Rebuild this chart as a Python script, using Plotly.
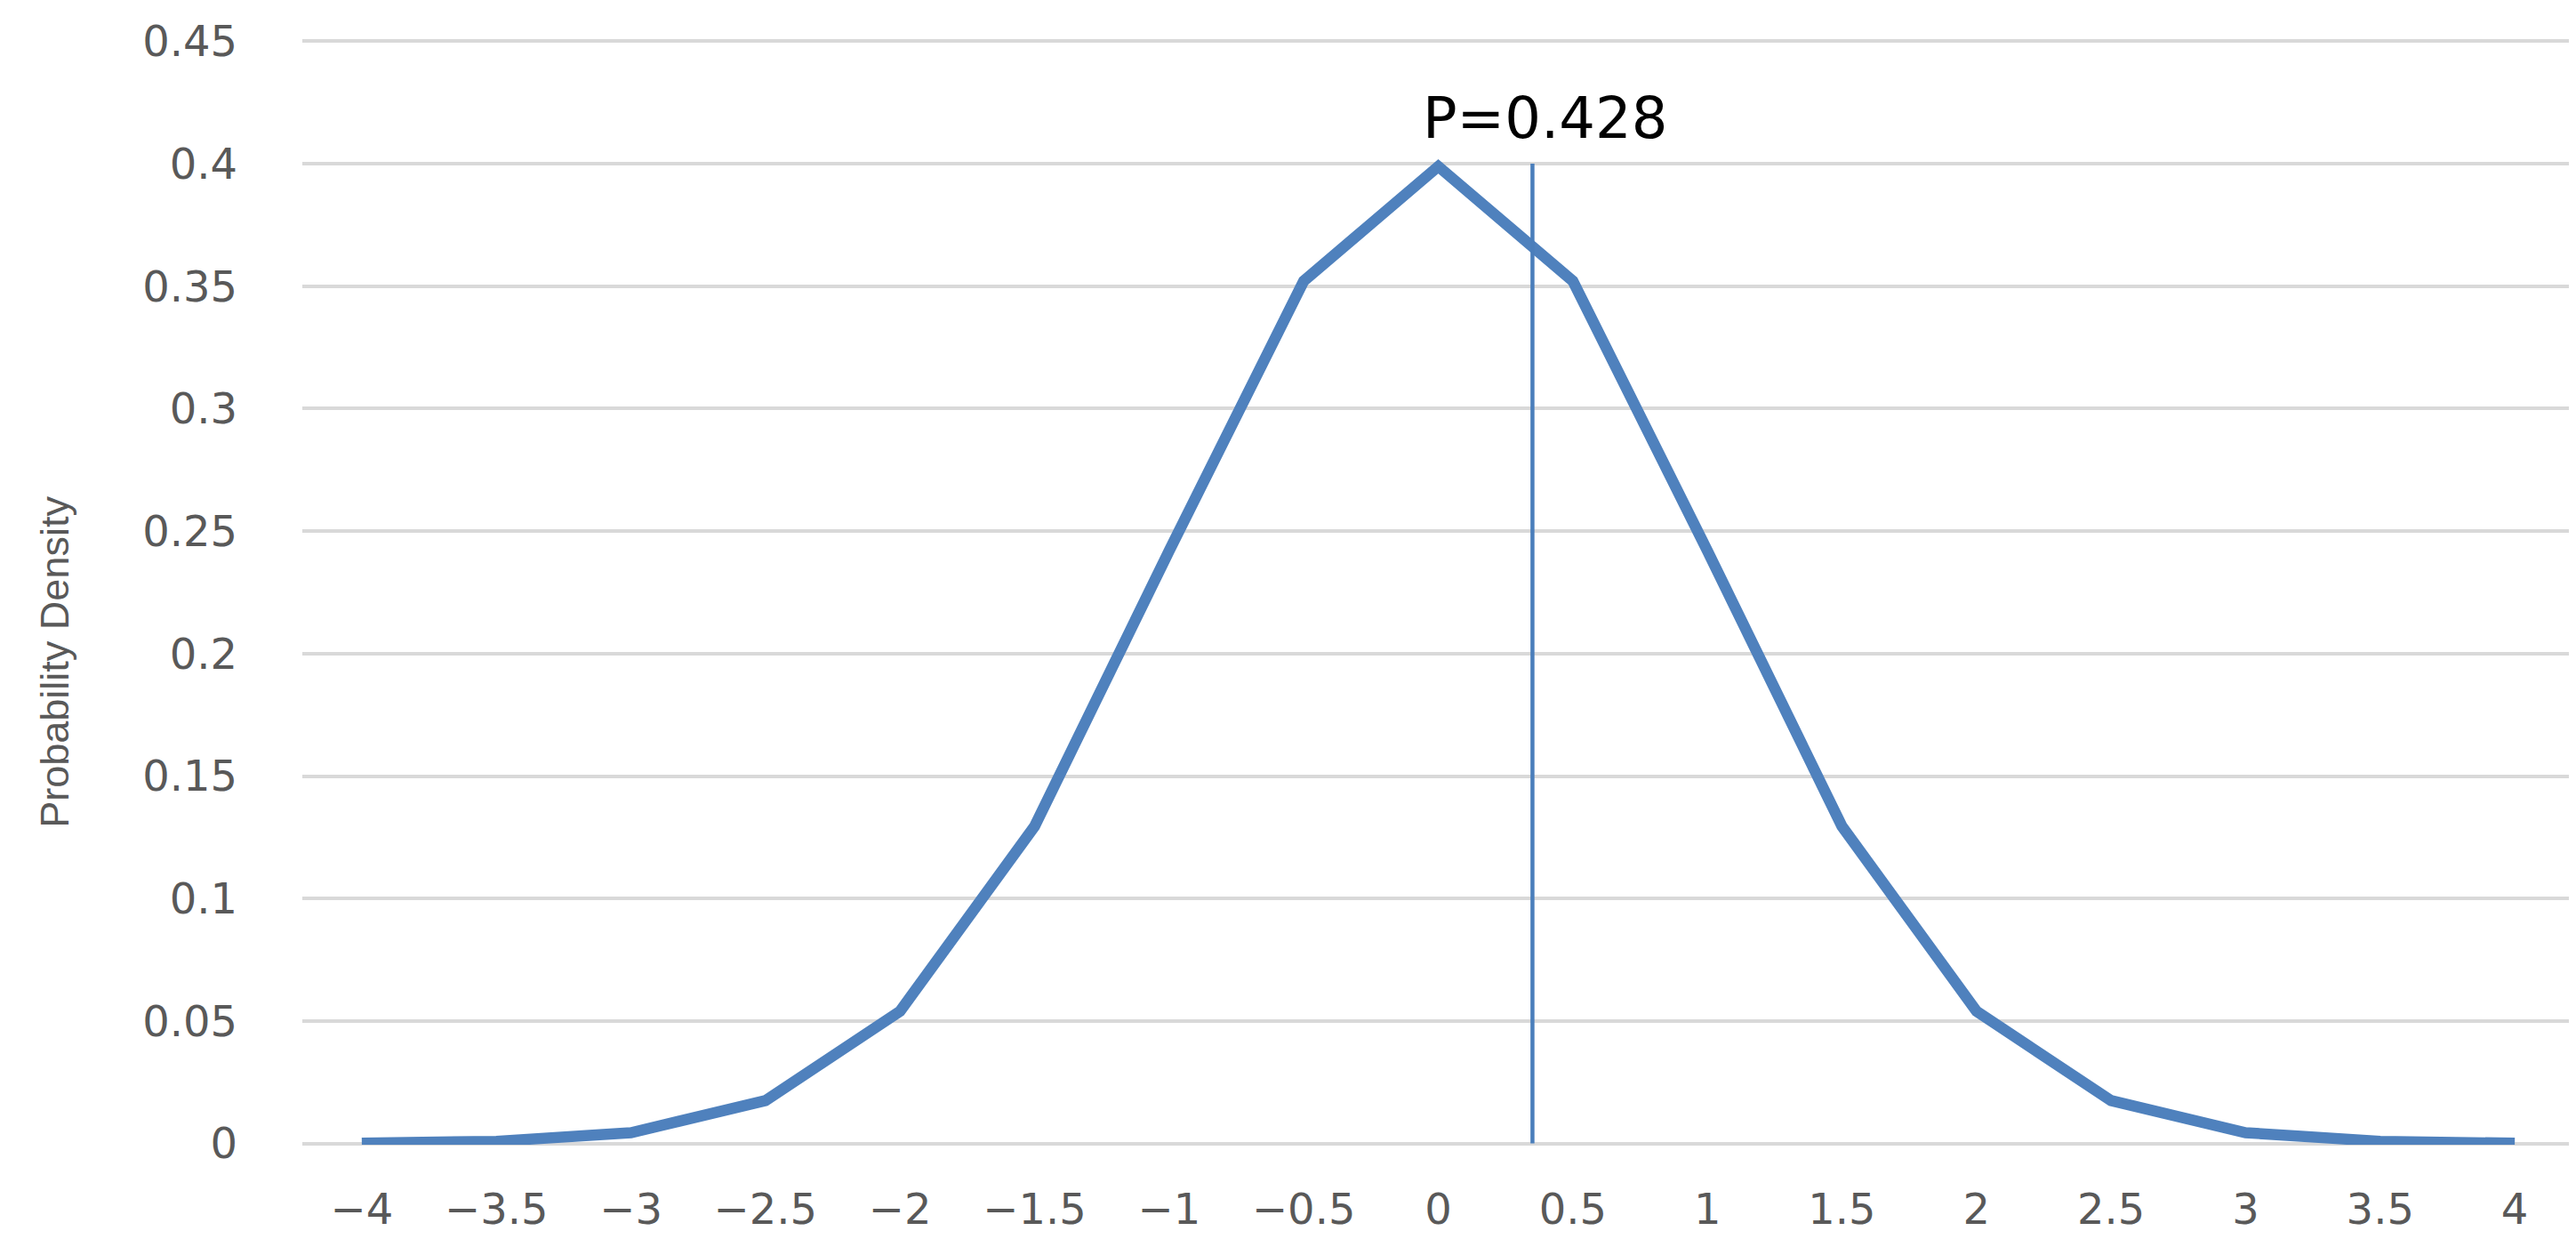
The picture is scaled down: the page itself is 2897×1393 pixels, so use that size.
import plotly.graph_objects as go

x_values = [-4, -3.5, -3, -2.5, -2, -1.5, -1, -0.5, 0, 0.5, 1, 1.5, 2, 2.5, 3, 3.5, 4]
x_labels = ["\u22124", "\u22123.5", "\u22123", "\u22122.5", "\u22122", "\u22121.5", "\u22121", "\u22120.5",
            "0", "0.5", "1", "1.5", "2", "2.5", "3", "3.5", "4"]
density = [0.0001, 0.0009, 0.0044, 0.0175, 0.054, 0.1295, 0.242, 0.3521, 0.3989,
           0.3521, 0.242, 0.1295, 0.054, 0.0175, 0.0044, 0.0009, 0.0001]

y_ticks = [0, 0.05, 0.1, 0.15, 0.2, 0.25, 0.3, 0.35, 0.4, 0.45]
y_labels = ["0", "0.05", "0.1", "0.15", "0.2", "0.25", "0.3", "0.35", "0.4", "0.45"]

marker_x = [0.35, 0.35]
marker_y = [0, 0.4]
p_label = "P=0.428"

blue = "#4f81bd"

fig = go.Figure()
fig.add_trace(go.Scatter(x=x_values, y=density, mode="lines",
                         line=dict(color=blue, width=12.5), showlegend=False))
fig.add_trace(go.Scatter(x=marker_x, y=marker_y, mode="lines",
                         line=dict(color="#4a7ebb", width=4.5), showlegend=False))

fig.add_annotation(x=0.396, y=0.4185, text=p_label, showarrow=False,
                   xanchor="center", yanchor="middle",
                   font=dict(family="DejaVu Sans", size=64, color="#000000"))
fig.add_annotation(x=-0.109, y=0.437, xref="paper", yref="paper",
                   text="Probability Density", textangle=-90, showarrow=False,
                   xanchor="center", yanchor="middle",
                   font=dict(family="Liberation Sans Narrow, Liberation Sans", size=45, color="#595959"))

fig.update_layout(
    width=2897, height=1393,
    margin=dict(l=332, r=10, t=32, b=114),
    plot_bgcolor="white", paper_bgcolor="white",
)
fig.update_xaxes(range=[-4.221, 4.221], tickvals=x_values, ticktext=x_labels,
                 showgrid=False, zeroline=False, showline=False, ticks="",
                 ticklabelstandoff=40,
                 tickfont=dict(family="DejaVu Sans", size=48, color="#595959"))
fig.update_yaxes(range=[-0.0005, 0.4505], tickvals=y_ticks, ticktext=y_labels,
                 showgrid=True, gridcolor="#d9d9d9", gridwidth=3.5, zeroline=False,
                 showline=False, ticks="", ticklabelstandoff=72,
                 tickfont=dict(family="DejaVu Sans", size=48, color="#595959"))

fig.write_html("out.html")
